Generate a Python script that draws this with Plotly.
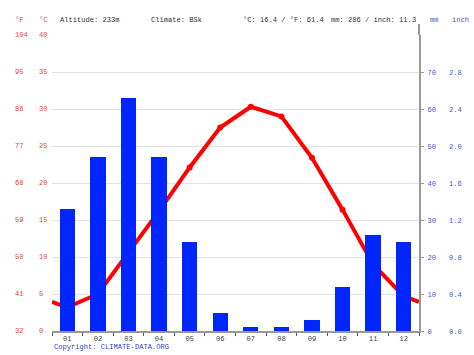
import plotly.graph_objects as go

months = ["01", "02", "03", "04", "05", "06", "07", "08", "09", "10", "11", "12"]
temp_c = [3.2, 5.0, 10.6, 16.2, 22.1, 27.5, 30.3, 29.0, 23.4, 16.4, 9.0, 4.7]
precip_mm = [33, 47, 63, 47, 24, 5, 1, 1, 3, 12, 26, 24]

c_ticks = [0, 5, 10, 15, 20, 25, 30, 35, 40]
f_ticks = ["32", "41", "50", "59", "68", "77", "86", "95", "104"]
mm_ticks = [0, 10, 20, 30, 40, 50, 60, 70]
inch_ticks = ["0.0", "0.4", "0.8", "1.2", "1.6", "2.0", "2.4", "2.8"]

header = {
    "altitude": "Altitude: 233m",
    "climate": "Climate: BSk",
    "temp": "°C: 16.4 / °F: 61.4",
    "precip": "mm: 286 / inch: 11.3",
}

W, H = 474, 355
L, R, T, B = 52, 52, 35, 23
PW, PH = W - L - R, H - T - B

def px(x):
    return (x - L) / PW

def py(y):
    return (H - B - y) / PH

FONT = "Liberation Mono, DejaVu Sans Mono, monospace"
FS = 7.1
RED = "#e84343"
BLUE = "#4455dd"
GREY = "#999999"

xs = list(range(1, 13))
wrap = (temp_c[0] + temp_c[-1]) / 2
line_x = [0.5] + xs + [12.5]
line_y = [wrap] + temp_c + [wrap]

fig = go.Figure()
fig.add_trace(go.Bar(x=xs, y=precip_mm, yaxis="y2", width=0.5,
                     marker=dict(color="#0026ff", line=dict(width=0)),
                     hoverinfo="skip"))
fig.add_trace(go.Scatter(x=line_x, y=line_y, yaxis="y", mode="lines",
                         line=dict(color="#ff0000", width=4), hoverinfo="skip"))
fig.add_trace(go.Scatter(x=xs, y=temp_c, yaxis="y", mode="markers",
                         marker=dict(color="#ff0000", size=6), hoverinfo="skip"))

ann = []
for v, f in zip(c_ticks, f_ticks):
    ann.append(dict(x=px(13), y=v, xref="paper", yref="y", text=f, showarrow=False,
                    xanchor="left", yanchor="middle", font=dict(family=FONT, size=FS, color=RED)))
    ann.append(dict(x=px(37), y=v, xref="paper", yref="y", text=str(v), showarrow=False,
                    xanchor="left", yanchor="middle", font=dict(family=FONT, size=FS, color=RED)))

hy = py(20)
for x, t, col in [(13, "°F", RED), (37, "°C", RED), (58, header["altitude"], "#333333"),
                  (150, header["climate"], "#333333"), (243, header["temp"], "#333333"),
                  (331, header["precip"], "#333333"), (431, "mm", BLUE), (453, "inch", BLUE)]:
    ann.append(dict(x=px(x), y=hy, xref="paper", yref="paper", text=t, showarrow=False,
                    xanchor="left", yanchor="middle", font=dict(family=FONT, size=FS, color=col)))

ann.append(dict(x=px(52), y=py(348), xref="paper", yref="paper", text="Copyright: CLIMATE-DATA.ORG",
                showarrow=False, xanchor="left", yanchor="middle",
                font=dict(family=FONT, size=FS, color="#3344cc")))

fig.update_layout(
    width=W, height=H,
    margin=dict(l=L, r=R, t=T, b=B, pad=0),
    paper_bgcolor="white", plot_bgcolor="white",
    showlegend=False,
    bargap=0,
    font=dict(family=FONT, size=FS),
    xaxis=dict(range=[0.5, 12.5], tickvals=xs, ticktext=months, ticks="",
               showgrid=False, zeroline=False, showline=True, linecolor=GREY, linewidth=1.5,
               tickfont=dict(family=FONT, size=FS, color="#444444"),
               minor=dict(tickvals=[i + 0.5 for i in range(0, 13)], ticks="outside",
                          ticklen=3, tickcolor="#555555", tickwidth=1)),
    yaxis=dict(range=[0, 40], tickvals=c_ticks, showticklabels=False, ticks="",
               showgrid=True, gridcolor="#e2e2e2", gridwidth=1, zeroline=False, showline=False),
    yaxis2=dict(range=[0, 80], overlaying="y", side="right", tickvals=mm_ticks,
                ticktext=[str(v) for v in mm_ticks], showgrid=False, zeroline=False,
                showline=True, linecolor=GREY, linewidth=2, ticks="outside", ticklen=3,
                tickcolor=GREY, tickfont=dict(family=FONT, size=FS, color=BLUE),
                ticklabelstandoff=2),
    yaxis3=dict(range=[0, 80], overlaying="y", side="right", anchor="free", position=1,
                tickvals=mm_ticks, ticktext=inch_ticks, showgrid=False, zeroline=False,
                showline=False, ticks="", tickfont=dict(family=FONT, size=FS, color=BLUE),
                ticklabelstandoff=29),
    annotations=ann,
)
fig.add_trace(go.Scatter(x=[None], y=[None], yaxis="y3", hoverinfo="skip"))
fig.add_shape(type="line", xref="paper", yref="paper", x0=1, x1=1, y0=1, y1=py(24),
              line=dict(color=GREY, width=2))

fig.write_html("out.html", config={"displayModeBar": False, "staticPlot": True},
               post_script="document.body.style.margin='0';document.body.style.padding='0';document.body.style.overflow='hidden';")
